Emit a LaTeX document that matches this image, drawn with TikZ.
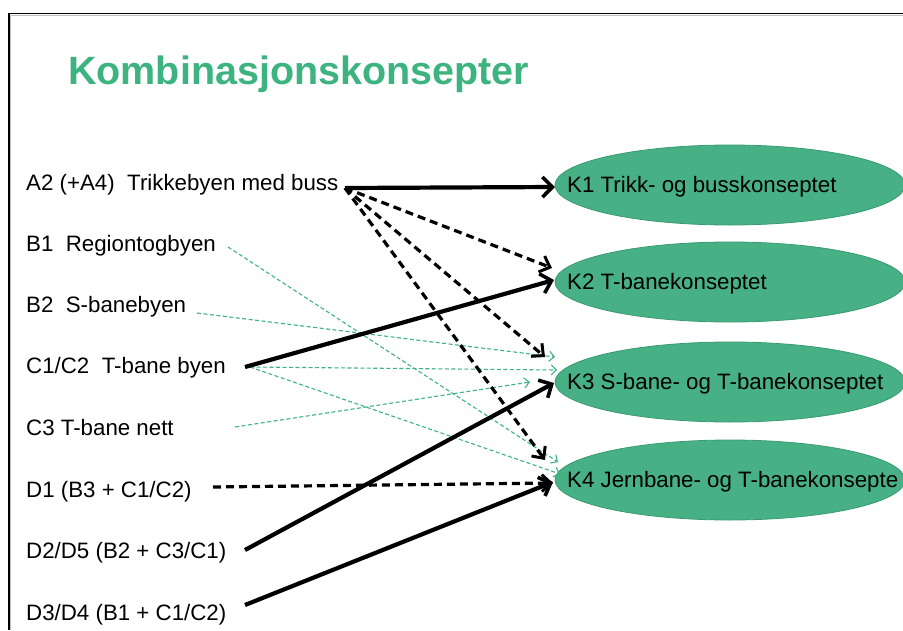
\documentclass[tikz,border=0pt]{standalone}
\usepackage{fontspec}
\setmainfont{Liberation Sans}
\usetikzlibrary{arrows.meta,shapes.geometric}
\definecolor{kgreen}{HTML}{47B185}
\definecolor{kedge}{HTML}{3A9A70}
\definecolor{tgreen}{HTML}{3DB37F}
\begin{document}
\begin{tikzpicture}[x=1pt,y=-1pt,
  lbl/.style={anchor=base west,inner sep=0pt,font=\fontsize{22.3}{26}\selectfont},
  konsept/.style={ellipse,fill=kgreen,draw=kedge,line width=0.8pt,minimum width=350pt,minimum height=80pt,inner sep=0pt},
  ktext/.style={anchor=base west,inner sep=0pt,font=\fontsize{22.3}{26}\selectfont},
  solidarr/.style={line width=4.2pt,-{Straight Barb[length=10pt,width=20pt,line width=3.6pt]}},
  dasharr/.style={line width=3.2pt,dash pattern=on 8pt off 5pt,-{Straight Barb[length=9pt,width=17pt,line width=3pt]}},
  greenarr/.style={draw=tgreen,line width=1.1pt,dash pattern=on 4pt off 2.5pt,-{Straight Barb[length=5pt,width=10pt,line width=1.1pt]}}]
\useasboundingbox (0,0) rectangle (903,630);
\fill[white] (0,0) rectangle (903,630);
% frame
\draw[gray!50,line width=1pt] (10,630) -- (10,15) -- (903,15);
\draw[black,line width=1.6pt] (9,630) -- (9,13.5) -- (903,13.5);
% title
\node[anchor=base west,inner sep=0pt,text=tgreen,font=\bfseries\fontsize{39.5}{46}\selectfont] (title) at (68,84) {Kombinasjonskonsepter};
% left labels
\node[lbl] (A2) at (26,190) {A2 (+A4)\ \ Trikkebyen med buss};
\node[lbl] (B1) at (26,251) {B1\ \ Regiontogbyen};
\node[lbl] (B2) at (26,312) {B2\ \ S-banebyen};
\node[lbl] (C1) at (26,373) {C1/C2\ \ T-bane byen};
\node[lbl] (C3) at (26,435) {C3 T-bane nett};
\node[lbl] (D1) at (26,497) {D1 (B3 + C1/C2)};
\node[lbl] (D2) at (26,558) {D2/D5 (B2 + C3/C1)};
\node[lbl] (D3) at (26,620) {D3/D4 (B1 + C1/C2)};
% ellipses
\node[konsept] (K1) at (730,185) {};
\node[konsept] (K2) at (730,282) {};
\node[konsept] (K3) at (730,382) {};
\node[konsept] (K4) at (730,480) {};
\node[ktext] (K1t) at (567,192) {K1 Trikk- og busskonseptet};
\node[ktext] (K2t) at (567,289) {K2 T-banekonseptet};
\node[ktext] (K3t) at (567,389) {K3 S-bane- og T-banekonseptet};
\node[ktext] (K4t) at (567,487) {K4 Jernbane- og T-banekonsepte};
% start points
\coordinate (a2o) at (345,188);
\coordinate (b1o) at (228,247);
\coordinate (b2o) at (197,313);
\coordinate (c1o) at (245,367);
\coordinate (c1g) at (250,367);
\coordinate (c3o) at (235,427);
\coordinate (d1o) at (213,487);
\coordinate (d2o) at (245,550);
\coordinate (d3o) at (245,605);
% arrow tips
\coordinate (k1a) at (555,187);
\coordinate (k2a) at (552,268);
\coordinate (k2b) at (554,280);
\coordinate (k3a) at (545,357);
\coordinate (k3b) at (555,357);
\coordinate (k3c) at (557,370);
\coordinate (k3d) at (530,382);
\coordinate (k3e) at (554,383);
\coordinate (k4a) at (545,460);
\coordinate (k4b) at (558,462);
\coordinate (k4c) at (560,474);
\coordinate (k4d) at (553,482);
\coordinate (k4e) at (553,483);
% green dashed connectors
\draw[greenarr] (b1o) -- (k4b);
\draw[greenarr] (b2o) -- (k3b);
\draw[greenarr] (c1g) -- (k3c);
\draw[greenarr] (c1g) -- (k4c);
\draw[greenarr] (c3o) -- (k3d);
% black connectors
\draw[solidarr] (a2o) -- (k1a);
\draw[dasharr] (a2o) -- (k2a);
\draw[dasharr] (a2o) -- (k3a);
\draw[dasharr] (a2o) -- (k4a);
\draw[solidarr] (c1o) -- (k2b);
\draw[dasharr] (d1o) -- (k4e);
\draw[solidarr] (d2o) -- (k3e);
\draw[solidarr] (d3o) -- (k4d);
\end{tikzpicture}
\end{document}
